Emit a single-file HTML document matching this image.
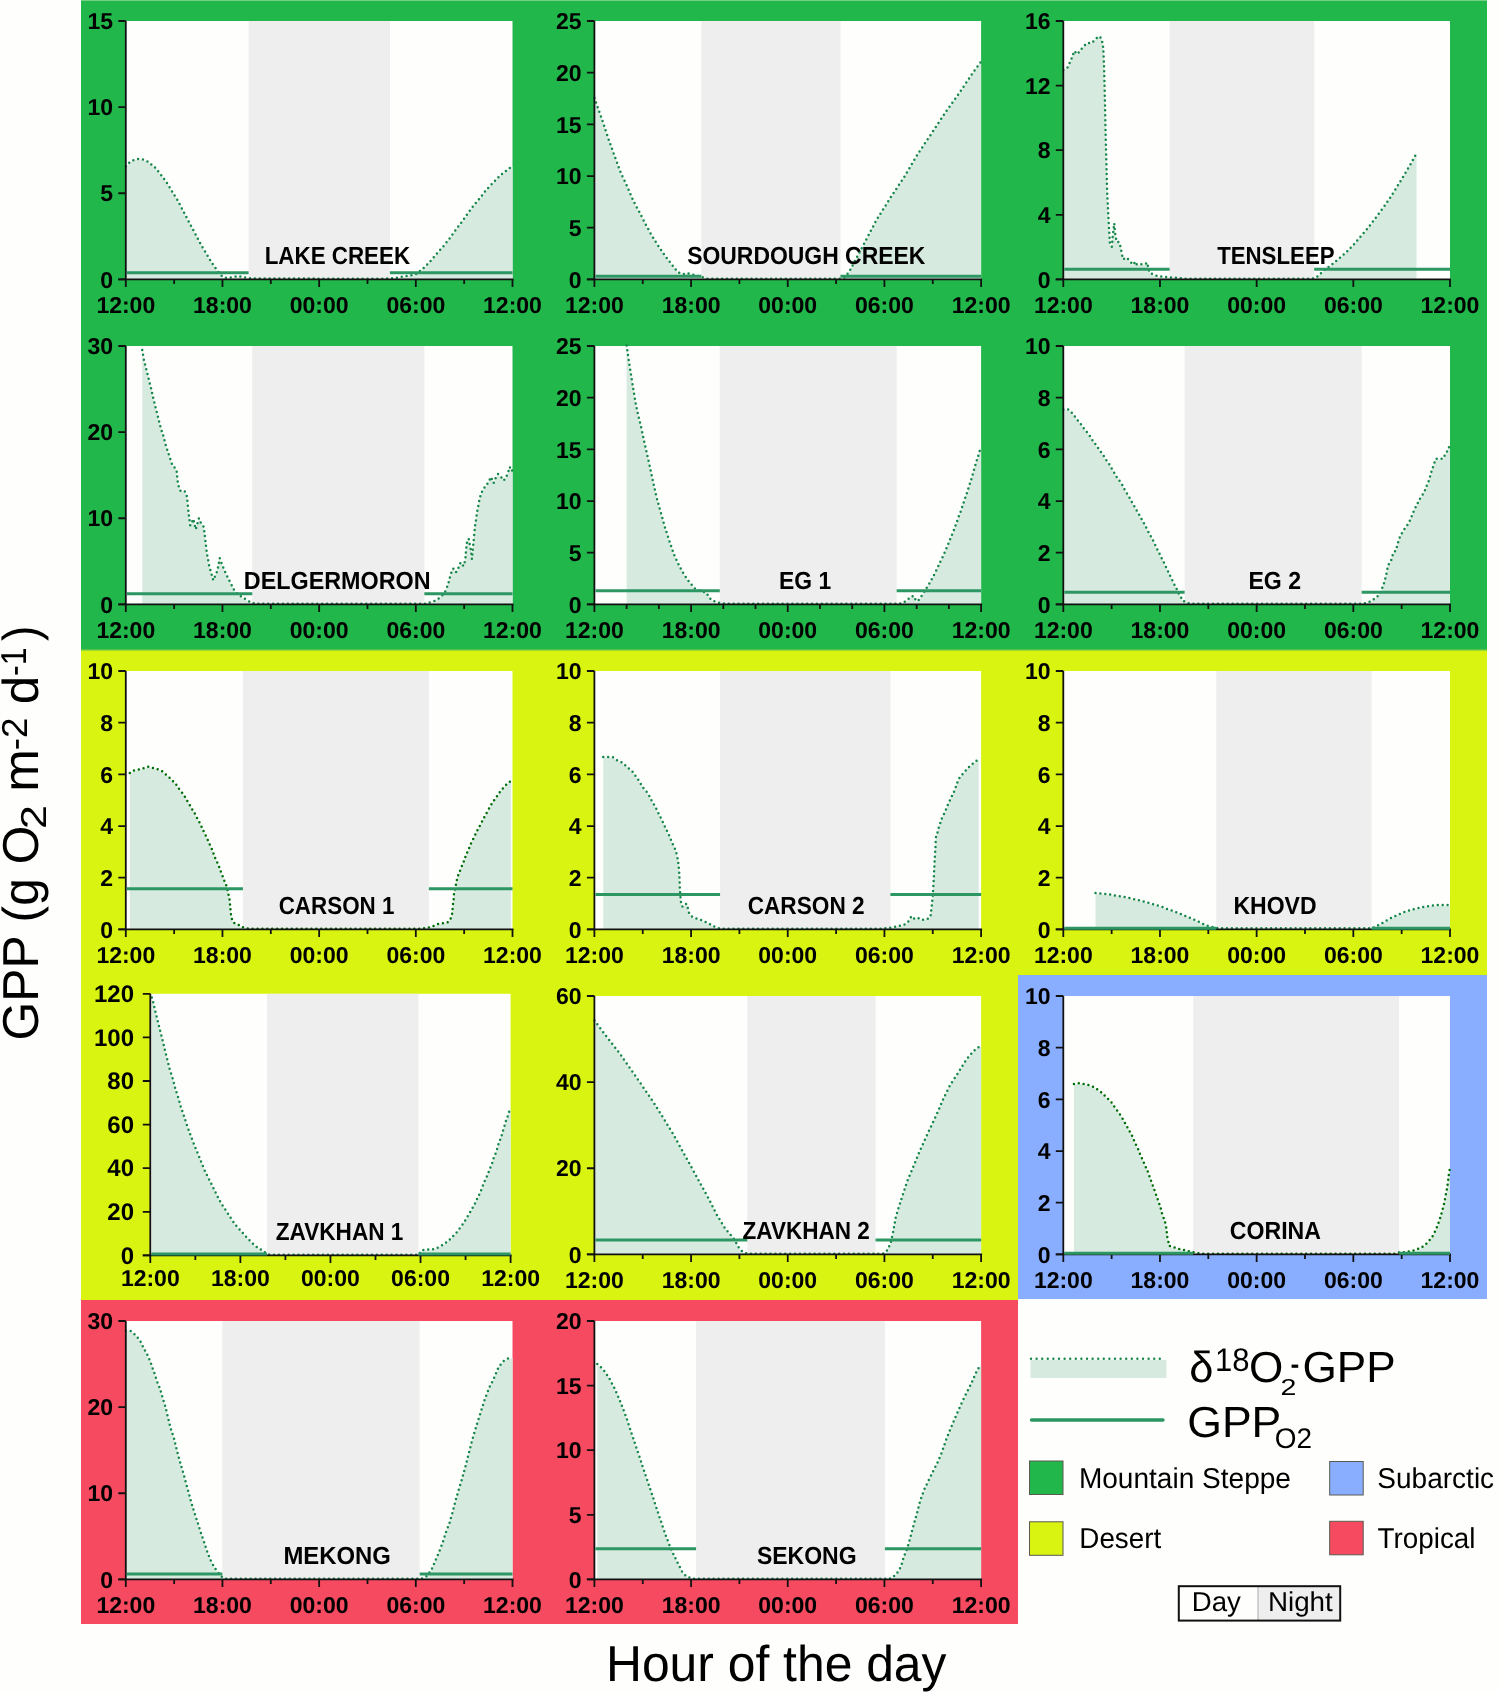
<!DOCTYPE html>
<html><head><meta charset="utf-8"><style>
html,body{margin:0;padding:0;background:#fefefd;}
body{width:1500px;height:1692px;overflow:hidden;}
svg{display:block;will-change:transform;}
text{font-family:"Liberation Sans", sans-serif;text-rendering:geometricPrecision;}
.t{font-size:23px;font-weight:bold;fill:#000;}
.n{font-size:24.8px;font-weight:bold;fill:#000;}
.lg{font-size:27px;fill:#000;}
</style></head><body>
<svg width="1500" height="1692" viewBox="0 0 1500 1692">
<rect x="0" y="0" width="1500" height="1692" fill="#fefefd"/>
<rect x="81" y="0" width="1406" height="650" fill="#21b74a"/><rect x="81" y="0" width="1406" height="1" fill="#74d083"/><rect x="81" y="650" width="1406" height="325" fill="#d9f411"/><rect x="81" y="649" width="1406" height="1.5" fill="#56c24c"/><rect x="81" y="975" width="937" height="325" fill="#d9f411"/><rect x="1018" y="975" width="469" height="324" fill="#8aaeff"/><rect x="81" y="1300" width="937" height="324" fill="#f54a60"/><rect x="125.8" y="21" width="386.7" height="258.4" fill="#fefefd"/>
<rect x="248.58" y="21" width="141.31" height="258.4" fill="#eeeeef"/>
<polygon fill="#d7eae0" points="125.8,279.4 125.8,166.91 129.34,163.29 133.53,160.71 138.21,159.5 143.36,160.19 148.04,162.26 155.45,168.46 161.57,176.21 167.69,184.65 172.69,193.09 178,201.54 182.52,210.32 187.19,219.28 191.86,228.06 196.53,236.85 201.21,245.81 206.36,254.25 211.52,263.03 217.16,270.96 220.38,275.27 223.6,278.02 228.92,278.54 238.43,276.64 246.64,278.54 252.44,279.06 384.89,279.4 396.17,278.37 405.67,276.82 415.66,275.09 423.08,269.06 430,262.17 436.93,254.08 443.86,246.32 449.98,238.57 455.62,230.65 461.75,222.55 467.38,214.63 473.51,206.36 479.95,198.61 486.08,190.68 493,183.45 500.25,176.04 508.15,169.84 512.5,166.57 512.5,279.4"/>
<path d="M125.8,166.31 L129.34,162.69 L133.53,160.11 L138.21,158.9 L143.36,159.59 L148.04,161.66 L155.45,167.86 L161.57,175.61 L167.69,184.05 L172.69,192.49 L178,200.94 L182.52,209.72 L187.19,218.68 L191.86,227.46 L196.53,236.25 L201.21,245.21 L206.36,253.65 L211.52,262.43 L217.16,270.36 L220.38,274.67 L223.6,277.42 L228.92,277.94 L238.43,276.04 L246.64,277.94 L252.44,278.46 L384.89,278.8 L396.17,277.77 L405.67,276.22 L415.66,274.49 L423.08,268.46 L430,261.57 L436.93,253.48 L443.86,245.72 L449.98,237.97 L455.62,230.05 L461.75,221.95 L467.38,214.03 L473.51,205.76 L479.95,198.01 L486.08,190.08 L493,182.85 L500.25,175.44 L508.15,169.24 L512.5,165.97" stroke="#178749" stroke-width="2.5" fill="none" stroke-dasharray="0 4.9" stroke-linecap="round" stroke-linejoin="round"/>
<path d="M125.8,21V279.4M118.3,279.4H513.5" stroke="#111" stroke-width="1.8" fill="none"/>
<text x="113" y="287.6" text-anchor="end" class="t">0</text>
<text x="113" y="201.47" text-anchor="end" class="t">5</text>
<text x="113" y="115.33" text-anchor="end" class="t">10</text>
<text x="113" y="29.2" text-anchor="end" class="t">15</text>
<path d="M118.3,279.4H125.8M118.3,193.27H125.8M118.3,107.13H125.8M118.3,21H125.8M125.8,279.4V286.9M222.47,279.4V286.9M319.15,279.4V286.9M415.82,279.4V286.9M512.5,279.4V286.9M174.14,279.4V283.9M270.81,279.4V283.9M367.49,279.4V283.9M464.16,279.4V283.9" stroke="#111" stroke-width="1.8" fill="none"/>
<path d="M126.8,272.85H248.58M389.88,272.85H512.5" stroke="#2c9763" stroke-width="3" fill="none"/>
<text x="125.8" y="312.7" text-anchor="middle" class="t">12:00</text>
<text x="222.47" y="312.7" text-anchor="middle" class="t">18:00</text>
<text x="319.15" y="312.7" text-anchor="middle" class="t">00:00</text>
<text x="415.82" y="312.7" text-anchor="middle" class="t">06:00</text>
<text x="512.5" y="312.7" text-anchor="middle" class="t">12:00</text>
<text x="264.70" y="263.70" class="n" textLength="145.40" lengthAdjust="spacingAndGlyphs">LAKE CREEK</text><rect x="594.4" y="21" width="386.7" height="258.4" fill="#fefefd"/>
<rect x="701.39" y="21" width="139.05" height="258.4" fill="#eeeeef"/>
<polygon fill="#d7eae0" points="594.4,279.4 594.4,98.52 602.46,121.26 608.58,139.86 614.7,156.92 620.99,173.97 627.11,186.69 633.39,201.67 639.51,212.84 645.8,225.24 651.92,236.4 658.21,246.32 664.49,255.63 670.61,263.69 678.02,272.99 683.02,274.75 687.05,273.61 694.14,275.47 700.74,277.33 707.19,279.4 840.92,279.4 844.95,277.85 849.3,272.16 862.51,247.26 876.37,220.79 890.23,198.68 904.08,177.8 917.94,154.33 931.8,133.66 945.65,112.58 959.67,93.04 973.53,72.27 981.1,62.34 981.1,279.4"/>
<path d="M594.4,97.92 L602.46,120.66 L608.58,139.26 L614.7,156.32 L620.99,173.37 L627.11,186.09 L633.39,201.07 L639.51,212.24 L645.8,224.64 L651.92,235.8 L658.21,245.72 L664.49,255.03 L670.61,263.09 L678.02,272.39 L683.02,274.15 L687.05,273.01 L694.14,274.87 L700.74,276.73 L707.19,278.8 L840.92,278.8 L844.95,277.25 L849.3,271.56 L862.51,246.66 L876.37,220.19 L890.23,198.08 L904.08,177.2 L917.94,153.73 L931.8,133.06 L945.65,111.98 L959.67,92.44 L973.53,71.67 L981.1,61.74" stroke="#178749" stroke-width="2.5" fill="none" stroke-dasharray="0 4.9" stroke-linecap="round" stroke-linejoin="round"/>
<path d="M594.4,21V279.4M586.9,279.4H982.1" stroke="#111" stroke-width="1.8" fill="none"/>
<text x="581.6" y="287.6" text-anchor="end" class="t">0</text>
<text x="581.6" y="235.92" text-anchor="end" class="t">5</text>
<text x="581.6" y="184.24" text-anchor="end" class="t">10</text>
<text x="581.6" y="132.56" text-anchor="end" class="t">15</text>
<text x="581.6" y="80.88" text-anchor="end" class="t">20</text>
<text x="581.6" y="29.2" text-anchor="end" class="t">25</text>
<path d="M586.9,279.4H594.4M586.9,227.72H594.4M586.9,176.04H594.4M586.9,124.36H594.4M586.9,72.68H594.4M586.9,21H594.4M594.4,279.4V286.9M691.07,279.4V286.9M787.75,279.4V286.9M884.42,279.4V286.9M981.1,279.4V286.9M642.74,279.4V283.9M739.41,279.4V283.9M836.09,279.4V283.9M932.76,279.4V283.9" stroke="#111" stroke-width="1.8" fill="none"/>
<path d="M595.4,276.3H701.39M840.44,276.3H981.1" stroke="#2c9763" stroke-width="3" fill="none"/>
<text x="594.4" y="312.7" text-anchor="middle" class="t">12:00</text>
<text x="691.07" y="312.7" text-anchor="middle" class="t">18:00</text>
<text x="787.75" y="312.7" text-anchor="middle" class="t">00:00</text>
<text x="884.42" y="312.7" text-anchor="middle" class="t">06:00</text>
<text x="981.1" y="312.7" text-anchor="middle" class="t">12:00</text>
<text x="687.14" y="263.70" class="n" textLength="238.27" lengthAdjust="spacingAndGlyphs">SOURDOUGH CREEK</text><rect x="1063.3" y="21" width="386.7" height="258.4" fill="#fefefd"/>
<rect x="1169.64" y="21" width="144.53" height="258.4" fill="#eeeeef"/>
<polygon fill="#d7eae0" points="1063.3,279.4 1063.3,70.26 1067.17,68.8 1071.2,60.24 1074.26,51.52 1077.32,54.75 1083.6,46.84 1087.63,43.45 1091.5,43.77 1098.59,36.83 1101.65,39.09 1103.26,48.45 1104.06,67.19 1104.87,98.52 1105.51,129.85 1106.32,161.18 1107.13,192.51 1108.74,223.84 1110.03,245.65 1111.8,247.26 1112.6,237.89 1114.22,223.84 1115.02,233.21 1116.63,242.58 1118.89,242.58 1120.5,247.26 1122.92,259.86 1126.78,258.24 1133.07,265.35 1135.48,262.12 1136.93,265.35 1145.47,264.54 1147.09,262.93 1149.5,273.1 1154.17,275.52 1158.85,276.98 1168.35,277.78 1177.7,278.59 1185.75,279.4 1311.43,279.4 1316.27,278.11 1319.65,275.04 1323.52,271.16 1331.41,265.51 1339.15,259.05 1346.56,252.59 1353.49,245.32 1359.93,237.89 1366.38,230.47 1372.5,222.71 1378.62,214.48 1384.74,206.24 1390.38,198 1395.54,189.77 1400.86,181.05 1406.01,172.49 1411.17,163.77 1415.84,155.04 1416.49,154.08 1416.49,279.4"/>
<path d="M1063.3,69.66 L1067.17,68.2 L1071.2,59.64 L1074.26,50.92 L1077.32,54.15 L1083.6,46.24 L1087.63,42.85 L1091.5,43.17 L1098.59,36.23 L1101.65,38.49 L1103.26,47.85 L1104.06,66.59 L1104.87,97.92 L1105.51,129.25 L1106.32,160.58 L1107.13,191.91 L1108.74,223.24 L1110.03,245.05 L1111.8,246.66 L1112.6,237.29 L1114.22,223.24 L1115.02,232.61 L1116.63,241.98 L1118.89,241.98 L1120.5,246.66 L1122.92,259.26 L1126.78,257.64 L1133.07,264.75 L1135.48,261.52 L1136.93,264.75 L1145.47,263.94 L1147.09,262.33 L1149.5,272.5 L1154.17,274.92 L1158.85,276.38 L1168.35,277.18 L1177.7,277.99 L1185.75,278.8 L1311.43,278.8 L1316.27,277.51 L1319.65,274.44 L1323.52,270.56 L1331.41,264.91 L1339.15,258.45 L1346.56,251.99 L1353.49,244.72 L1359.93,237.29 L1366.38,229.87 L1372.5,222.11 L1378.62,213.88 L1384.74,205.64 L1390.38,197.4 L1395.54,189.17 L1400.86,180.45 L1406.01,171.89 L1411.17,163.17 L1415.84,154.44 L1416.49,153.48" stroke="#178749" stroke-width="2.5" fill="none" stroke-dasharray="0 4.9" stroke-linecap="round" stroke-linejoin="round"/>
<path d="M1063.3,21V279.4M1055.8,279.4H1451" stroke="#111" stroke-width="1.8" fill="none"/>
<text x="1050.5" y="287.6" text-anchor="end" class="t">0</text>
<text x="1050.5" y="223" text-anchor="end" class="t">4</text>
<text x="1050.5" y="158.4" text-anchor="end" class="t">8</text>
<text x="1050.5" y="93.8" text-anchor="end" class="t">12</text>
<text x="1050.5" y="29.2" text-anchor="end" class="t">16</text>
<path d="M1055.8,279.4H1063.3M1055.8,214.8H1063.3M1055.8,150.2H1063.3M1055.8,85.6H1063.3M1055.8,21H1063.3M1063.3,279.4V286.9M1159.97,279.4V286.9M1256.65,279.4V286.9M1353.32,279.4V286.9M1450,279.4V286.9" stroke="#111" stroke-width="1.8" fill="none"/>
<path d="M1064.3,269.23H1169.64M1314.17,269.23H1450" stroke="#2c9763" stroke-width="3" fill="none"/>
<text x="1063.3" y="312.7" text-anchor="middle" class="t">12:00</text>
<text x="1159.97" y="312.7" text-anchor="middle" class="t">18:00</text>
<text x="1256.65" y="312.7" text-anchor="middle" class="t">00:00</text>
<text x="1353.32" y="312.7" text-anchor="middle" class="t">06:00</text>
<text x="1450" y="312.7" text-anchor="middle" class="t">12:00</text>
<text x="1217.15" y="263.70" class="n" textLength="117.41" lengthAdjust="spacingAndGlyphs">TENSLEEP</text><rect x="125.8" y="346" width="386.7" height="258.4" fill="#fefefd"/>
<rect x="252.28" y="346" width="172.08" height="258.4" fill="#eeeeef"/>
<polygon fill="#d7eae0" points="142.23,604.4 142.23,350.57 143.85,360.13 146.26,369.69 148.68,379.25 151.1,388.89 153.35,399.14 155.77,408.79 158.19,418.35 160.6,427.91 163.66,437.47 166.08,447.03 169.3,456.6 172.53,466.24 176.55,470.12 177.36,478.9 178.17,485.28 180.58,491.65 184.61,491.65 187.03,497.25 187.83,506.04 188.64,513.96 190.25,526.02 193.31,519.56 195.73,529.98 198.95,518.78 200.56,522.75 203.78,527.57 205.4,541.01 206.85,553.84 209.26,566.59 213.29,580.89 217.32,571.41 219.74,558.66 221.99,565.04 226.02,574.6 230.85,584.07 234.88,592.08 241.97,597.68 250.03,602.51 254.7,604.4 425.49,604.4 429.52,603.11 434.19,601.73 438.38,599.32 442.25,596.05 445.15,592.26 446.92,588.03 448.53,583.3 449.82,578.13 451.27,573.31 453.21,569.09 455.95,572.96 458.36,568.65 460.62,562.97 463.52,566.76 464.48,563.4 465.45,558.75 465.77,554.01 466.26,548.84 466.74,543.68 468.67,539.37 469.64,544.54 470.61,549.27 471.41,554.44 471.9,559.61 472.38,554.01 472.86,549.27 473.35,544.11 473.83,539.37 474.31,534.12 474.8,528.95 475.28,524.3 476.25,519.56 476.73,514.39 477.7,509.57 478.66,504.4 479.47,499.66 480.92,495.01 482.85,490.27 485.75,486.48 488.49,482.69 490.91,477.53 493.65,483.73 495.58,478.9 498,474.68 500.74,477.01 503.64,481.32 506.06,477.96 507.99,473.31 509.76,467.62 511.21,471.84 512.5,470.89 512.5,604.4"/>
<path d="M142.23,349.97 L143.85,359.53 L146.26,369.09 L148.68,378.65 L151.1,388.29 L153.35,398.54 L155.77,408.19 L158.19,417.75 L160.6,427.31 L163.66,436.87 L166.08,446.43 L169.3,456 L172.53,465.64 L176.55,469.52 L177.36,478.3 L178.17,484.68 L180.58,491.05 L184.61,491.05 L187.03,496.65 L187.83,505.44 L188.64,513.36 L190.25,525.42 L193.31,518.96 L195.73,529.38 L198.95,518.18 L200.56,522.15 L203.78,526.97 L205.4,540.41 L206.85,553.24 L209.26,565.99 L213.29,580.29 L217.32,570.81 L219.74,558.06 L221.99,564.44 L226.02,574 L230.85,583.47 L234.88,591.48 L241.97,597.08 L250.03,601.91 L254.7,603.8 L425.49,603.8 L429.52,602.51 L434.19,601.13 L438.38,598.72 L442.25,595.45 L445.15,591.66 L446.92,587.43 L448.53,582.7 L449.82,577.53 L451.27,572.71 L453.21,568.49 L455.95,572.36 L458.36,568.05 L460.62,562.37 L463.52,566.16 L464.48,562.8 L465.45,558.15 L465.77,553.41 L466.26,548.24 L466.74,543.08 L468.67,538.77 L469.64,543.94 L470.61,548.67 L471.41,553.84 L471.9,559.01 L472.38,553.41 L472.86,548.67 L473.35,543.51 L473.83,538.77 L474.31,533.52 L474.8,528.35 L475.28,523.7 L476.25,518.96 L476.73,513.79 L477.7,508.97 L478.66,503.8 L479.47,499.06 L480.92,494.41 L482.85,489.67 L485.75,485.88 L488.49,482.09 L490.91,476.93 L493.65,483.13 L495.58,478.3 L498,474.08 L500.74,476.41 L503.64,480.72 L506.06,477.36 L507.99,472.71 L509.76,467.02 L511.21,471.24 L512.5,470.29" stroke="#178749" stroke-width="2.5" fill="none" stroke-dasharray="0 4.9" stroke-linecap="round" stroke-linejoin="round"/>
<path d="M125.8,346V604.4M118.3,604.4H513.5" stroke="#111" stroke-width="1.8" fill="none"/>
<text x="113" y="612.6" text-anchor="end" class="t">0</text>
<text x="113" y="526.47" text-anchor="end" class="t">10</text>
<text x="113" y="440.33" text-anchor="end" class="t">20</text>
<text x="113" y="354.2" text-anchor="end" class="t">30</text>
<path d="M118.3,604.4H125.8M118.3,518.27H125.8M118.3,432.13H125.8M118.3,346H125.8M125.8,604.4V611.9M222.47,604.4V611.9M319.15,604.4V611.9M415.82,604.4V611.9M512.5,604.4V611.9M174.14,604.4V608.9M270.81,604.4V608.9M367.49,604.4V608.9M464.16,604.4V608.9" stroke="#111" stroke-width="1.8" fill="none"/>
<path d="M126.8,593.72H252.28M424.36,593.72H512.5" stroke="#2c9763" stroke-width="3" fill="none"/>
<text x="125.8" y="637.7" text-anchor="middle" class="t">12:00</text>
<text x="222.47" y="637.7" text-anchor="middle" class="t">18:00</text>
<text x="319.15" y="637.7" text-anchor="middle" class="t">00:00</text>
<text x="415.82" y="637.7" text-anchor="middle" class="t">06:00</text>
<text x="512.5" y="637.7" text-anchor="middle" class="t">12:00</text>
<text x="243.84" y="588.70" class="n" textLength="186.73" lengthAdjust="spacingAndGlyphs">DELGERMORON</text><rect x="594.4" y="346" width="386.7" height="258.4" fill="#fefefd"/>
<rect x="719.76" y="346" width="176.92" height="258.4" fill="#eeeeef"/>
<polygon fill="#d7eae0" points="626.62,604.4 626.62,346 628.72,360.88 631.14,375.97 633.55,391.17 635.97,405.54 638.39,416.7 640.8,426.31 643.87,440.68 647.09,454.94 650.31,469.31 653.37,483.78 656.59,498.04 660.62,512.41 664.65,526.88 669.48,541.97 674.16,555.51 678.99,565.95 683.82,574.74 689.3,582.69 694.94,589 701.23,592.2 706.06,593.03 710.89,600.16 715.73,602.64 722.17,603.88 726.52,604.4 898.93,604.4 903.12,603.37 907.3,600.68 910.85,597.16 914.23,596.75 915.84,601.4 918.1,601.3 921.16,597.16 923.9,593.03 926.64,588.38 929.22,584.24 931.63,580.01 933.89,575.67 936.15,571.12 938.4,566.47 940.34,562.23 942.59,557.58 944.69,553.03 946.62,548.38 948.55,543.83 950.33,539.18 952.26,534.63 954.19,529.98 955.8,525.33 957.58,520.47 959.19,515.72 961.12,511.17 962.57,506.1 964.18,501.56 965.79,496.7 967.4,492.05 968.85,487.29 970.47,482.44 971.92,477.68 973.37,472.82 974.65,468.07 976.11,463.21 977.56,458.46 979.01,453.8 980.46,448.74 981.1,447.29 981.1,604.4"/>
<path d="M626.62,345.4 L628.72,360.28 L631.14,375.37 L633.55,390.57 L635.97,404.94 L638.39,416.1 L640.8,425.71 L643.87,440.08 L647.09,454.34 L650.31,468.71 L653.37,483.18 L656.59,497.44 L660.62,511.81 L664.65,526.28 L669.48,541.37 L674.16,554.91 L678.99,565.35 L683.82,574.14 L689.3,582.09 L694.94,588.4 L701.23,591.6 L706.06,592.43 L710.89,599.56 L715.73,602.04 L722.17,603.28 L726.52,603.8 L898.93,603.8 L903.12,602.77 L907.3,600.08 L910.85,596.56 L914.23,596.15 L915.84,600.8 L918.1,600.7 L921.16,596.56 L923.9,592.43 L926.64,587.78 L929.22,583.64 L931.63,579.41 L933.89,575.07 L936.15,570.52 L938.4,565.87 L940.34,561.63 L942.59,556.98 L944.69,552.43 L946.62,547.78 L948.55,543.23 L950.33,538.58 L952.26,534.03 L954.19,529.38 L955.8,524.73 L957.58,519.87 L959.19,515.12 L961.12,510.57 L962.57,505.5 L964.18,500.96 L965.79,496.1 L967.4,491.45 L968.85,486.69 L970.47,481.84 L971.92,477.08 L973.37,472.22 L974.65,467.47 L976.11,462.61 L977.56,457.86 L979.01,453.2 L980.46,448.14 L981.1,446.69" stroke="#178749" stroke-width="2.5" fill="none" stroke-dasharray="0 4.9" stroke-linecap="round" stroke-linejoin="round"/>
<path d="M594.4,346V604.4M586.9,604.4H982.1" stroke="#111" stroke-width="1.8" fill="none"/>
<text x="581.6" y="612.6" text-anchor="end" class="t">0</text>
<text x="581.6" y="560.92" text-anchor="end" class="t">5</text>
<text x="581.6" y="509.24" text-anchor="end" class="t">10</text>
<text x="581.6" y="457.56" text-anchor="end" class="t">15</text>
<text x="581.6" y="405.88" text-anchor="end" class="t">20</text>
<text x="581.6" y="354.2" text-anchor="end" class="t">25</text>
<path d="M586.9,604.4H594.4M586.9,552.72H594.4M586.9,501.04H594.4M586.9,449.36H594.4M586.9,397.68H594.4M586.9,346H594.4M594.4,604.4V611.9M691.07,604.4V611.9M787.75,604.4V611.9M884.42,604.4V611.9M981.1,604.4V611.9M626.62,604.4V608.9M658.85,604.4V608.9M723.3,604.4V608.9M755.52,604.4V608.9M819.98,604.4V608.9M852.2,604.4V608.9M916.65,604.4V608.9M948.88,604.4V608.9" stroke="#111" stroke-width="1.8" fill="none"/>
<path d="M595.4,590.65H719.76M896.67,590.65H981.1" stroke="#2c9763" stroke-width="3" fill="none"/>
<text x="594.4" y="637.7" text-anchor="middle" class="t">12:00</text>
<text x="691.07" y="637.7" text-anchor="middle" class="t">18:00</text>
<text x="787.75" y="637.7" text-anchor="middle" class="t">00:00</text>
<text x="884.42" y="637.7" text-anchor="middle" class="t">06:00</text>
<text x="981.1" y="637.7" text-anchor="middle" class="t">12:00</text>
<text x="779.07" y="588.70" class="n" textLength="52.17" lengthAdjust="spacingAndGlyphs">EG 1</text><rect x="1063.3" y="346" width="386.7" height="258.4" fill="#fefefd"/>
<rect x="1184.63" y="346" width="177.08" height="258.4" fill="#eeeeef"/>
<polygon fill="#d7eae0" points="1063.3,604.4 1063.3,410.08 1068.29,410.08 1071.2,412.67 1074.26,416.28 1077.48,420.68 1080.54,424.3 1083.6,428.69 1086.66,432.56 1089.89,436.7 1092.3,440.57 1095.52,444.97 1098.59,449.36 1101.16,452.98 1104.23,457.37 1106.64,461.25 1109.87,465.64 1112.28,470.03 1114.7,474.17 1117.28,478.56 1120.34,482.44 1122.92,486.57 1125.33,491.74 1127.91,495.36 1130.33,499.75 1132.74,504.14 1135.32,508.53 1137.74,512.93 1140.32,517.32 1142.73,521.71 1145.15,525.85 1147.09,530.24 1149.5,534.63 1152.08,539.02 1154.5,543.93 1156.43,548.33 1158.85,552.72 1160.78,557.11 1163.2,561.51 1165.13,565.9 1167.55,570.81 1169.48,575.2 1171.74,579.59 1173.67,583.99 1176.09,588.12 1178.02,592.77 1180.44,596.91 1182.85,601.3 1187.85,603.88 1192.2,604.4 1361.38,604.4 1365.73,603.62 1370.4,602.07 1374.75,599.23 1378.46,596.13 1382.65,587.6 1384.26,582.95 1385.55,578.04 1386.68,573.13 1387.64,567.97 1389.26,563.57 1391.99,559.44 1392.96,554.01 1396.18,550.65 1397.15,546 1398.76,540.58 1400.37,536.44 1403.11,531.53 1405.69,527.91 1408.91,523.52 1411.01,518.61 1412.62,514.48 1414.71,509.57 1416.97,505.43 1419.06,500.52 1421.64,496.91 1424.38,492.51 1425.99,487.86 1428.09,483.47 1429.7,478.56 1430.83,473.91 1432.44,469.26 1434.05,464.35 1435.66,459.44 1439.53,459.44 1443.23,459.44 1445.33,454.79 1448.07,450.39 1449.68,445.74 1450,445.23 1450,604.4"/>
<path d="M1063.3,409.48 L1068.29,409.48 L1071.2,412.07 L1074.26,415.68 L1077.48,420.08 L1080.54,423.7 L1083.6,428.09 L1086.66,431.96 L1089.89,436.1 L1092.3,439.97 L1095.52,444.37 L1098.59,448.76 L1101.16,452.38 L1104.23,456.77 L1106.64,460.65 L1109.87,465.04 L1112.28,469.43 L1114.7,473.57 L1117.28,477.96 L1120.34,481.84 L1122.92,485.97 L1125.33,491.14 L1127.91,494.76 L1130.33,499.15 L1132.74,503.54 L1135.32,507.93 L1137.74,512.33 L1140.32,516.72 L1142.73,521.11 L1145.15,525.25 L1147.09,529.64 L1149.5,534.03 L1152.08,538.42 L1154.5,543.33 L1156.43,547.73 L1158.85,552.12 L1160.78,556.51 L1163.2,560.91 L1165.13,565.3 L1167.55,570.21 L1169.48,574.6 L1171.74,578.99 L1173.67,583.39 L1176.09,587.52 L1178.02,592.17 L1180.44,596.31 L1182.85,600.7 L1187.85,603.28 L1192.2,603.8 L1361.38,603.8 L1365.73,603.02 L1370.4,601.47 L1374.75,598.63 L1378.46,595.53 L1382.65,587 L1384.26,582.35 L1385.55,577.44 L1386.68,572.53 L1387.64,567.37 L1389.26,562.97 L1391.99,558.84 L1392.96,553.41 L1396.18,550.05 L1397.15,545.4 L1398.76,539.98 L1400.37,535.84 L1403.11,530.93 L1405.69,527.31 L1408.91,522.92 L1411.01,518.01 L1412.62,513.88 L1414.71,508.97 L1416.97,504.83 L1419.06,499.92 L1421.64,496.31 L1424.38,491.91 L1425.99,487.26 L1428.09,482.87 L1429.7,477.96 L1430.83,473.31 L1432.44,468.66 L1434.05,463.75 L1435.66,458.84 L1439.53,458.84 L1443.23,458.84 L1445.33,454.19 L1448.07,449.79 L1449.68,445.14 L1450,444.63" stroke="#178749" stroke-width="2.5" fill="none" stroke-dasharray="0 4.9" stroke-linecap="round" stroke-linejoin="round"/>
<path d="M1063.3,346V604.4M1055.8,604.4H1451" stroke="#111" stroke-width="1.8" fill="none"/>
<text x="1050.5" y="612.6" text-anchor="end" class="t">0</text>
<text x="1050.5" y="560.92" text-anchor="end" class="t">2</text>
<text x="1050.5" y="509.24" text-anchor="end" class="t">4</text>
<text x="1050.5" y="457.56" text-anchor="end" class="t">6</text>
<text x="1050.5" y="405.88" text-anchor="end" class="t">8</text>
<text x="1050.5" y="354.2" text-anchor="end" class="t">10</text>
<path d="M1055.8,604.4H1063.3M1055.8,552.72H1063.3M1055.8,501.04H1063.3M1055.8,449.36H1063.3M1055.8,397.68H1063.3M1055.8,346H1063.3M1063.3,604.4V611.9M1159.97,604.4V611.9M1256.65,604.4V611.9M1353.32,604.4V611.9M1450,604.4V611.9M1111.64,604.4V608.9M1208.31,604.4V608.9M1304.99,604.4V608.9M1401.66,604.4V608.9" stroke="#111" stroke-width="1.8" fill="none"/>
<path d="M1064.3,592.26H1184.63M1361.7,592.26H1450" stroke="#2c9763" stroke-width="3" fill="none"/>
<text x="1063.3" y="637.7" text-anchor="middle" class="t">12:00</text>
<text x="1159.97" y="637.7" text-anchor="middle" class="t">18:00</text>
<text x="1256.65" y="637.7" text-anchor="middle" class="t">00:00</text>
<text x="1353.32" y="637.7" text-anchor="middle" class="t">06:00</text>
<text x="1450" y="637.7" text-anchor="middle" class="t">12:00</text>
<text x="1248.45" y="588.70" class="n" textLength="52.67" lengthAdjust="spacingAndGlyphs">EG 2</text><rect x="125.8" y="671" width="386.7" height="258.4" fill="#fefefd"/>
<rect x="242.94" y="671" width="185.94" height="258.4" fill="#eeeeef"/>
<polygon fill="#d7eae0" points="129.83,929.4 129.83,773.58 133.86,771 138.53,770.23 143.68,768.93 148.36,767.38 153.03,768.68 157.7,769.97 162.38,772.03 165.92,775.14 170.11,778.75 173.17,781.85 176.39,785.47 179.45,790.12 182.52,793.74 185.26,797.87 187.83,802.53 190.41,806.66 192.99,811.31 195.57,815.45 197.66,819.84 200.24,824.23 202.33,829.14 204.43,833.53 206.52,837.67 208.62,842.58 210.71,846.97 212.81,851.88 214.26,856.53 216.35,861.18 218.61,865.83 220.06,870.48 222.15,875.14 223.6,879.79 225.7,884.44 227.31,889.09 228.28,894.26 229.4,898.91 229.89,903.56 230.37,908.73 230.85,913.9 231.5,918.55 233.43,923.2 237.62,924.75 241.33,927.33 246,928.88 251.48,929.4 420.66,929.4 424.36,928.88 429.2,928.11 433.55,926.56 438.38,924.49 443.38,923.72 448.21,922.68 450.63,919.32 452.08,914.41 452.56,909.5 453.04,904.59 453.69,899.68 454.01,894.26 454.98,889.35 456.11,884.44 457.07,879.53 458.36,875.14 460.46,870.23 462.39,865.32 464.32,860.92 465.77,856.27 467.71,851.88 469.64,847.49 471.57,842.58 473.99,838.18 475.92,833.79 478.34,828.88 480.92,824.49 482.85,820.36 485.27,815.96 487.69,811.57 490.1,807.18 492.68,802.78 495.58,798.91 498.48,794.52 501.38,790.64 504.77,786.76 508.15,783.4 510.89,781.6 510.89,929.4"/>
<path d="M129.83,772.98 L133.86,770.4 L138.53,769.63 L143.68,768.33 L148.36,766.78 L153.03,768.08 L157.7,769.37 L162.38,771.43 L165.92,774.54 L170.11,778.15 L173.17,781.25 L176.39,784.87 L179.45,789.52 L182.52,793.14 L185.26,797.27 L187.83,801.93 L190.41,806.06 L192.99,810.71 L195.57,814.85 L197.66,819.24 L200.24,823.63 L202.33,828.54 L204.43,832.93 L206.52,837.07 L208.62,841.98 L210.71,846.37 L212.81,851.28 L214.26,855.93 L216.35,860.58 L218.61,865.23 L220.06,869.88 L222.15,874.54 L223.6,879.19 L225.7,883.84 L227.31,888.49 L228.28,893.66 L229.4,898.31 L229.89,902.96 L230.37,908.13 L230.85,913.3 L231.5,917.95 L233.43,922.6 L237.62,924.15 L241.33,926.73 L246,928.28 L251.48,928.8 L420.66,928.8 L424.36,928.28 L429.2,927.51 L433.55,925.96 L438.38,923.89 L443.38,923.12 L448.21,922.08 L450.63,918.72 L452.08,913.81 L452.56,908.9 L453.04,903.99 L453.69,899.08 L454.01,893.66 L454.98,888.75 L456.11,883.84 L457.07,878.93 L458.36,874.54 L460.46,869.63 L462.39,864.72 L464.32,860.32 L465.77,855.67 L467.71,851.28 L469.64,846.89 L471.57,841.98 L473.99,837.58 L475.92,833.19 L478.34,828.28 L480.92,823.89 L482.85,819.76 L485.27,815.36 L487.69,810.97 L490.1,806.58 L492.68,802.18 L495.58,798.31 L498.48,793.92 L501.38,790.04 L504.77,786.16 L508.15,782.8 L510.89,781" stroke="#006e08" stroke-width="2.5" fill="none" stroke-dasharray="0 4.9" stroke-linecap="round" stroke-linejoin="round"/>
<path d="M125.8,671V929.4M118.3,929.4H513.5" stroke="#111" stroke-width="1.8" fill="none"/>
<text x="113" y="937.6" text-anchor="end" class="t">0</text>
<text x="113" y="885.92" text-anchor="end" class="t">2</text>
<text x="113" y="834.24" text-anchor="end" class="t">4</text>
<text x="113" y="782.56" text-anchor="end" class="t">6</text>
<text x="113" y="730.88" text-anchor="end" class="t">8</text>
<text x="113" y="679.2" text-anchor="end" class="t">10</text>
<path d="M118.3,929.4H125.8M118.3,877.72H125.8M118.3,826.04H125.8M118.3,774.36H125.8M118.3,722.68H125.8M118.3,671H125.8M125.8,929.4V936.9M222.47,929.4V936.9M319.15,929.4V936.9M415.82,929.4V936.9M512.5,929.4V936.9M174.14,929.4V933.9M270.81,929.4V933.9M367.49,929.4V933.9M464.16,929.4V933.9" stroke="#111" stroke-width="1.8" fill="none"/>
<path d="M126.8,888.83H242.94M428.88,888.83H512.5" stroke="#2c9763" stroke-width="3" fill="none"/>
<text x="125.8" y="962.7" text-anchor="middle" class="t">12:00</text>
<text x="222.47" y="962.7" text-anchor="middle" class="t">18:00</text>
<text x="319.15" y="962.7" text-anchor="middle" class="t">00:00</text>
<text x="415.82" y="962.7" text-anchor="middle" class="t">06:00</text>
<text x="512.5" y="962.7" text-anchor="middle" class="t">12:00</text>
<text x="278.68" y="913.70" class="n" textLength="115.74" lengthAdjust="spacingAndGlyphs">CARSON 1</text><rect x="594.4" y="671" width="386.7" height="258.4" fill="#fefefd"/>
<rect x="720.08" y="671" width="170.31" height="258.4" fill="#eeeeef"/>
<polygon fill="#d7eae0" points="603.26,929.4 603.26,757.56 608.1,757.56 612.93,757.82 616.8,760.66 621.15,762.47 625.01,765.57 628.88,769.19 632.75,772.55 635.49,776.43 638.23,780.3 640.8,784.44 643.54,788.83 646.93,792.71 649.67,797.1 651.76,801.49 654.5,805.88 656.76,810.28 658.85,814.67 661.11,819.06 663.2,823.46 665.46,828.37 667.55,832.76 669.81,837.41 671.42,841.8 673.67,846.71 675.77,851.1 676.9,856.01 678.02,860.92 678.51,866.09 679.15,871 679.31,875.91 679.64,880.82 679.64,885.73 679.96,890.64 680.28,895.55 680.76,900.46 681.25,905.89 682.86,907.44 686.24,904.34 687.85,908.73 688.98,913.38 691.07,916.74 696.07,919.06 700.42,920.36 705.25,922.42 709.6,924.49 713.95,927.07 718.95,928.88 723.3,929.4 882.81,929.4 886.36,928.62 891.84,928.11 896.67,927.07 901.5,926.04 906.02,924.49 909.24,921.13 911.49,916.74 914.72,919.58 917.94,918.55 921.81,920.61 926.8,919.84 930.51,917.51 930.99,912.35 931.63,907.44 932.12,902.53 932.76,897.62 933.25,887.8 933.57,882.89 933.89,877.46 934.05,872.55 934.37,867.64 934.53,862.73 934.86,857.82 935.18,852.91 935.5,847.23 935.66,842.58 935.98,837.67 937.6,832.76 938.72,828.37 940.34,823.46 941.95,818.55 944.2,814.15 946.3,809.24 948.07,804.85 950.16,800.46 952.42,795.55 954.51,791.16 956.29,786.25 957.74,781.85 959.99,777.46 963.38,773.84 966.6,770.23 969.82,766.61 973.69,763.51 977.56,760.41 978.68,759.63 978.68,929.4"/>
<path d="M603.26,756.96 L608.1,756.96 L612.93,757.22 L616.8,760.06 L621.15,761.87 L625.01,764.97 L628.88,768.59 L632.75,771.95 L635.49,775.83 L638.23,779.7 L640.8,783.84 L643.54,788.23 L646.93,792.11 L649.67,796.5 L651.76,800.89 L654.5,805.28 L656.76,809.68 L658.85,814.07 L661.11,818.46 L663.2,822.86 L665.46,827.77 L667.55,832.16 L669.81,836.81 L671.42,841.2 L673.67,846.11 L675.77,850.5 L676.9,855.41 L678.02,860.32 L678.51,865.49 L679.15,870.4 L679.31,875.31 L679.64,880.22 L679.64,885.13 L679.96,890.04 L680.28,894.95 L680.76,899.86 L681.25,905.29 L682.86,906.84 L686.24,903.74 L687.85,908.13 L688.98,912.78 L691.07,916.14 L696.07,918.46 L700.42,919.76 L705.25,921.82 L709.6,923.89 L713.95,926.47 L718.95,928.28 L723.3,928.8 L882.81,928.8 L886.36,928.02 L891.84,927.51 L896.67,926.47 L901.5,925.44 L906.02,923.89 L909.24,920.53 L911.49,916.14 L914.72,918.98 L917.94,917.95 L921.81,920.01 L926.8,919.24 L930.51,916.91 L930.99,911.75 L931.63,906.84 L932.12,901.93 L932.76,897.02 L933.25,887.2 L933.57,882.29 L933.89,876.86 L934.05,871.95 L934.37,867.04 L934.53,862.13 L934.86,857.22 L935.18,852.31 L935.5,846.63 L935.66,841.98 L935.98,837.07 L937.6,832.16 L938.72,827.77 L940.34,822.86 L941.95,817.95 L944.2,813.55 L946.3,808.64 L948.07,804.25 L950.16,799.86 L952.42,794.95 L954.51,790.56 L956.29,785.65 L957.74,781.25 L959.99,776.86 L963.38,773.24 L966.6,769.63 L969.82,766.01 L973.69,762.91 L977.56,759.81 L978.68,759.03" stroke="#178749" stroke-width="2.5" fill="none" stroke-dasharray="0 4.9" stroke-linecap="round" stroke-linejoin="round"/>
<path d="M594.4,671V929.4M586.9,929.4H982.1" stroke="#111" stroke-width="1.8" fill="none"/>
<text x="581.6" y="937.6" text-anchor="end" class="t">0</text>
<text x="581.6" y="885.92" text-anchor="end" class="t">2</text>
<text x="581.6" y="834.24" text-anchor="end" class="t">4</text>
<text x="581.6" y="782.56" text-anchor="end" class="t">6</text>
<text x="581.6" y="730.88" text-anchor="end" class="t">8</text>
<text x="581.6" y="679.2" text-anchor="end" class="t">10</text>
<path d="M586.9,929.4H594.4M586.9,877.72H594.4M586.9,826.04H594.4M586.9,774.36H594.4M586.9,722.68H594.4M586.9,671H594.4M594.4,929.4V936.9M691.07,929.4V936.9M787.75,929.4V936.9M884.42,929.4V936.9M981.1,929.4V936.9M642.74,929.4V933.9M739.41,929.4V933.9M836.09,929.4V933.9M932.76,929.4V933.9" stroke="#111" stroke-width="1.8" fill="none"/>
<path d="M595.4,894.52H720.08M890.39,894.52H981.1" stroke="#2c9763" stroke-width="3" fill="none"/>
<text x="594.4" y="962.7" text-anchor="middle" class="t">12:00</text>
<text x="691.07" y="962.7" text-anchor="middle" class="t">18:00</text>
<text x="787.75" y="962.7" text-anchor="middle" class="t">00:00</text>
<text x="884.42" y="962.7" text-anchor="middle" class="t">06:00</text>
<text x="981.1" y="962.7" text-anchor="middle" class="t">12:00</text>
<text x="747.67" y="913.70" class="n" textLength="117.04" lengthAdjust="spacingAndGlyphs">CARSON 2</text><rect x="1063.3" y="671" width="386.7" height="258.4" fill="#fefefd"/>
<rect x="1216.21" y="671" width="155.49" height="258.4" fill="#eeeeef"/>
<polygon fill="#d7eae0" points="1095.52,929.4 1095.52,893.48 1100.2,894 1105.35,894.52 1110.03,895.03 1115.02,896.07 1119.69,896.84 1124.85,897.62 1129.52,898.65 1134.68,899.94 1139.35,900.98 1144.02,902.27 1148.7,903.56 1153.69,905.11 1158.52,906.4 1163.2,907.95 1167.71,909.76 1172.38,911.31 1177.22,913.12 1181.73,914.93 1186.4,917 1190.59,918.81 1195.26,920.87 1199.93,922.94 1204.61,925.27 1208.8,926.82 1213.95,927.85 1217.98,928.88 1372.66,928.88 1376.69,926.56 1380.88,924.49 1385.07,921.91 1389.58,919.32 1393.77,917.26 1398.6,915.19 1403.11,913.12 1407.62,911.57 1412.46,910.02 1417.29,908.99 1421.96,907.69 1426.8,906.92 1431.95,906.14 1436.79,905.63 1441.78,905.63 1446.62,905.63 1450,905.89 1450,929.4"/>
<path d="M1095.52,892.88 L1100.2,893.4 L1105.35,893.92 L1110.03,894.43 L1115.02,895.47 L1119.69,896.24 L1124.85,897.02 L1129.52,898.05 L1134.68,899.34 L1139.35,900.38 L1144.02,901.67 L1148.7,902.96 L1153.69,904.51 L1158.52,905.8 L1163.2,907.35 L1167.71,909.16 L1172.38,910.71 L1177.22,912.52 L1181.73,914.33 L1186.4,916.4 L1190.59,918.21 L1195.26,920.27 L1199.93,922.34 L1204.61,924.67 L1208.8,926.22 L1213.95,927.25 L1217.98,928.28 L1372.66,928.28 L1376.69,925.96 L1380.88,923.89 L1385.07,921.31 L1389.58,918.72 L1393.77,916.66 L1398.6,914.59 L1403.11,912.52 L1407.62,910.97 L1412.46,909.42 L1417.29,908.39 L1421.96,907.09 L1426.8,906.32 L1431.95,905.54 L1436.79,905.03 L1441.78,905.03 L1446.62,905.03 L1450,905.29" stroke="#178749" stroke-width="2.5" fill="none" stroke-dasharray="0 4.9" stroke-linecap="round" stroke-linejoin="round"/>
<path d="M1063.3,671V929.4M1055.8,929.4H1451" stroke="#111" stroke-width="1.8" fill="none"/>
<text x="1050.5" y="937.6" text-anchor="end" class="t">0</text>
<text x="1050.5" y="885.92" text-anchor="end" class="t">2</text>
<text x="1050.5" y="834.24" text-anchor="end" class="t">4</text>
<text x="1050.5" y="782.56" text-anchor="end" class="t">6</text>
<text x="1050.5" y="730.88" text-anchor="end" class="t">8</text>
<text x="1050.5" y="679.2" text-anchor="end" class="t">10</text>
<path d="M1055.8,929.4H1063.3M1055.8,877.72H1063.3M1055.8,826.04H1063.3M1055.8,774.36H1063.3M1055.8,722.68H1063.3M1055.8,671H1063.3M1063.3,929.4V936.9M1159.97,929.4V936.9M1256.65,929.4V936.9M1353.32,929.4V936.9M1450,929.4V936.9M1111.64,929.4V933.9M1208.31,929.4V933.9M1304.99,929.4V933.9M1401.66,929.4V933.9" stroke="#111" stroke-width="1.8" fill="none"/>
<path d="M1064.3,928.37H1216.21M1371.69,928.37H1450" stroke="#2c9763" stroke-width="3" fill="none"/>
<text x="1063.3" y="962.7" text-anchor="middle" class="t">12:00</text>
<text x="1159.97" y="962.7" text-anchor="middle" class="t">18:00</text>
<text x="1256.65" y="962.7" text-anchor="middle" class="t">00:00</text>
<text x="1353.32" y="962.7" text-anchor="middle" class="t">06:00</text>
<text x="1450" y="962.7" text-anchor="middle" class="t">12:00</text>
<text x="1233.46" y="913.70" class="n" textLength="83.11" lengthAdjust="spacingAndGlyphs">KHOVD</text><rect x="150.3" y="993.8" width="360.3" height="261.6" fill="#fefefd"/>
<rect x="266.95" y="993.8" width="151.48" height="261.6" fill="#eeeeef"/>
<polygon fill="#d7eae0" points="151.8,1255.4 151.8,998.16 153.15,1002.52 155.55,1012.98 157.96,1022.58 160.36,1032.17 162.76,1041.54 165.01,1051.13 167.41,1060.73 169.82,1070.32 172.97,1079.91 175.37,1089.5 178.52,1099.09 180.93,1107.81 184.23,1117.41 187.38,1127 190.53,1135.72 193.84,1144.44 197.74,1154.03 201.64,1163.62 204.95,1171.69 208.85,1179.54 212.9,1187.6 216.81,1195.67 220.86,1203.52 225.66,1210.71 230.32,1217.9 235.12,1225.1 240.83,1231.42 246.38,1237.74 251.93,1243.41 257.49,1248.21 263.19,1251.48 266.65,1254.31 270.4,1255.4 419.02,1255.4 420.53,1252.13 421.73,1251.04 425.93,1250.17 431.18,1250.17 435.99,1249.08 440.79,1246.68 444.55,1244.28 448.9,1241.01 452.2,1237.52 455.65,1234.25 458.96,1229.89 461.81,1226.19 464.66,1221.83 467.06,1217.9 469.92,1213.11 472.32,1208.97 474.72,1204.61 476.67,1200.25 479.07,1195.45 480.88,1191.31 482.83,1186.29 484.78,1181.5 486.73,1177.36 488.68,1172.56 490.48,1167.76 492.43,1162.97 493.79,1158.17 495.74,1153.81 497.24,1149.02 498.59,1144.22 500.54,1139.42 502.04,1134.85 503.39,1129.83 504.9,1125.25 506.25,1120.46 508.2,1115.66 509.55,1110.87 510.6,1109.34 510.6,1255.4"/>
<path d="M151.8,997.56 L153.15,1001.92 L155.55,1012.38 L157.96,1021.98 L160.36,1031.57 L162.76,1040.94 L165.01,1050.53 L167.41,1060.13 L169.82,1069.72 L172.97,1079.31 L175.37,1088.9 L178.52,1098.49 L180.93,1107.21 L184.23,1116.81 L187.38,1126.4 L190.53,1135.12 L193.84,1143.84 L197.74,1153.43 L201.64,1163.02 L204.95,1171.09 L208.85,1178.94 L212.9,1187 L216.81,1195.07 L220.86,1202.92 L225.66,1210.11 L230.32,1217.3 L235.12,1224.5 L240.83,1230.82 L246.38,1237.14 L251.93,1242.81 L257.49,1247.61 L263.19,1250.88 L266.65,1253.71 L270.4,1254.8 L419.02,1254.8 L420.53,1251.53 L421.73,1250.44 L425.93,1249.57 L431.18,1249.57 L435.99,1248.48 L440.79,1246.08 L444.55,1243.68 L448.9,1240.41 L452.2,1236.92 L455.65,1233.65 L458.96,1229.29 L461.81,1225.59 L464.66,1221.23 L467.06,1217.3 L469.92,1212.51 L472.32,1208.37 L474.72,1204.01 L476.67,1199.65 L479.07,1194.85 L480.88,1190.71 L482.83,1185.69 L484.78,1180.9 L486.73,1176.76 L488.68,1171.96 L490.48,1167.16 L492.43,1162.37 L493.79,1157.57 L495.74,1153.21 L497.24,1148.42 L498.59,1143.62 L500.54,1138.82 L502.04,1134.25 L503.39,1129.23 L504.9,1124.65 L506.25,1119.86 L508.2,1115.06 L509.55,1110.27 L510.6,1108.74" stroke="#178749" stroke-width="2.5" fill="none" stroke-dasharray="0 4.9" stroke-linecap="round" stroke-linejoin="round"/>
<path d="M150.3,993.8V1255.4M142.8,1255.4H511.6" stroke="#111" stroke-width="1.8" fill="none"/>
<text x="134" y="1263.6" text-anchor="end" class="t" style="font-size:24px">0</text>
<text x="134" y="1220" text-anchor="end" class="t" style="font-size:24px">20</text>
<text x="134" y="1176.4" text-anchor="end" class="t" style="font-size:24px">40</text>
<text x="134" y="1132.8" text-anchor="end" class="t" style="font-size:24px">60</text>
<text x="134" y="1089.2" text-anchor="end" class="t" style="font-size:24px">80</text>
<text x="134" y="1045.6" text-anchor="end" class="t" style="font-size:24px">100</text>
<text x="134" y="1002" text-anchor="end" class="t" style="font-size:24px">120</text>
<path d="M142.8,1255.4H150.3M142.8,1211.8H150.3M142.8,1168.2H150.3M142.8,1124.6H150.3M142.8,1081H150.3M142.8,1037.4H150.3M142.8,993.8H150.3M150.3,1255.4V1262.9M240.38,1255.4V1262.9M330.45,1255.4V1262.9M420.53,1255.4V1262.9M510.6,1255.4V1262.9M195.34,1255.4V1259.9M285.41,1255.4V1259.9M375.49,1255.4V1259.9M465.56,1255.4V1259.9" stroke="#111" stroke-width="1.8" fill="none"/>
<path d="M151.3,1254.09H266.95M418.42,1254.09H510.6" stroke="#2c9763" stroke-width="3" fill="none"/>
<text x="150.3" y="1285.9" text-anchor="middle" class="t">12:00</text>
<text x="240.38" y="1285.9" text-anchor="middle" class="t">18:00</text>
<text x="330.45" y="1285.9" text-anchor="middle" class="t">00:00</text>
<text x="420.53" y="1285.9" text-anchor="middle" class="t">06:00</text>
<text x="510.6" y="1285.9" text-anchor="middle" class="t">12:00</text>
<text x="275.74" y="1239.70" class="n" textLength="127.69" lengthAdjust="spacingAndGlyphs">ZAVKHAN 1</text><rect x="594.4" y="996" width="386.7" height="258.4" fill="#fefefd"/>
<rect x="747.31" y="996" width="128.26" height="258.4" fill="#eeeeef"/>
<polygon fill="#d7eae0" points="594.4,1254.4 594.4,1020.98 595.37,1022.27 606.97,1037.77 619.21,1053.28 631.46,1070.94 642.25,1086.44 653.69,1103.24 663.68,1119.17 673.67,1135.54 682.86,1152.33 691.24,1167.41 700.58,1184.63 708.96,1199.71 716.69,1215.21 725.07,1228.99 733.61,1239.03 739.73,1249.79 743.6,1252.81 747.47,1254.4 882.81,1254.4 886.52,1251.9 890.55,1244.11 893.13,1232.44 895.7,1218.14 898.28,1209.18 902.79,1195.4 907.47,1181.19 913.27,1167.41 919.07,1153.19 924.87,1140.27 931.47,1126.06 937.92,1112.28 943.72,1098.5 950.16,1085.58 958.06,1073.52 966.28,1060.17 973.37,1051.99 977.39,1048.54 981.1,1046.39 981.1,1254.4"/>
<path d="M594.4,1020.38 L595.37,1021.67 L606.97,1037.17 L619.21,1052.68 L631.46,1070.34 L642.25,1085.84 L653.69,1102.64 L663.68,1118.57 L673.67,1134.94 L682.86,1151.73 L691.24,1166.81 L700.58,1184.03 L708.96,1199.11 L716.69,1214.61 L725.07,1228.39 L733.61,1238.43 L739.73,1249.19 L743.6,1252.21 L747.47,1253.8 L882.81,1253.8 L886.52,1251.3 L890.55,1243.51 L893.13,1231.84 L895.7,1217.54 L898.28,1208.58 L902.79,1194.8 L907.47,1180.59 L913.27,1166.81 L919.07,1152.59 L924.87,1139.67 L931.47,1125.46 L937.92,1111.68 L943.72,1097.9 L950.16,1084.98 L958.06,1072.92 L966.28,1059.57 L973.37,1051.39 L977.39,1047.94 L981.1,1045.79" stroke="#178749" stroke-width="2.5" fill="none" stroke-dasharray="0 4.9" stroke-linecap="round" stroke-linejoin="round"/>
<path d="M594.4,996V1254.4M586.9,1254.4H982.1" stroke="#111" stroke-width="1.8" fill="none"/>
<text x="581.6" y="1262.6" text-anchor="end" class="t">0</text>
<text x="581.6" y="1176.47" text-anchor="end" class="t">20</text>
<text x="581.6" y="1090.33" text-anchor="end" class="t">40</text>
<text x="581.6" y="1004.2" text-anchor="end" class="t">60</text>
<path d="M586.9,1254.4H594.4M586.9,1168.27H594.4M586.9,1082.13H594.4M586.9,996H594.4M594.4,1254.4V1261.9M691.07,1254.4V1261.9M787.75,1254.4V1261.9M884.42,1254.4V1261.9M981.1,1254.4V1261.9M642.74,1254.4V1258.9M739.41,1254.4V1258.9M836.09,1254.4V1258.9M932.76,1254.4V1258.9" stroke="#111" stroke-width="1.8" fill="none"/>
<path d="M595.4,1240.06H747.31M875.56,1240.06H981.1" stroke="#2c9763" stroke-width="3" fill="none"/>
<text x="594.4" y="1287.7" text-anchor="middle" class="t">12:00</text>
<text x="691.07" y="1287.7" text-anchor="middle" class="t">18:00</text>
<text x="787.75" y="1287.7" text-anchor="middle" class="t">00:00</text>
<text x="884.42" y="1287.7" text-anchor="middle" class="t">06:00</text>
<text x="981.1" y="1287.7" text-anchor="middle" class="t">12:00</text>
<text x="742.54" y="1238.70" class="n" textLength="127.35" lengthAdjust="spacingAndGlyphs">ZAVKHAN 2</text><rect x="1063.3" y="996" width="386.7" height="258.4" fill="#fefefd"/>
<rect x="1193.17" y="996" width="205.92" height="258.4" fill="#eeeeef"/>
<polygon fill="#d7eae0" points="1073.93,1254.4 1073.93,1084.63 1078.93,1083.86 1083.92,1084.63 1088.44,1085.66 1092.95,1087.22 1097.46,1090.06 1101.33,1092.9 1104.71,1096.26 1108.74,1100.14 1112.12,1103.75 1114.86,1108.15 1117.76,1112.02 1120.5,1115.9 1123.4,1120.55 1125.66,1124.94 1128.39,1129.59 1130.65,1133.99 1132.91,1137.86 1134.52,1142.51 1136.77,1146.91 1139.03,1151.56 1140.64,1156.47 1143.06,1160.86 1144.67,1165.51 1146.92,1169.9 1148.7,1174.55 1150.31,1179.46 1152.08,1184.12 1153.69,1188.51 1155.46,1193.68 1157.07,1198.07 1158.85,1203.24 1160.46,1207.63 1161.59,1212.8 1163.2,1217.19 1164.97,1222.36 1166.1,1227.27 1166.74,1232.44 1167.23,1237.35 1168.35,1242 1169,1246.39 1173.51,1247.68 1178.02,1249.23 1182.53,1250.27 1187.04,1251.56 1192.04,1252.59 1198.97,1253.88 1205.09,1254.4 1395.22,1254.4 1399.57,1252.85 1404.72,1252.85 1409.24,1252.07 1414.23,1251.04 1419.06,1248.97 1423.25,1246.91 1427.12,1243.55 1430.34,1239.93 1433.24,1235.8 1435.5,1231.14 1437.43,1226.49 1439.04,1221.84 1440.65,1217.19 1441.94,1212.28 1443.23,1207.37 1444.52,1202.46 1445.33,1197.55 1446.29,1192.64 1447.26,1187.73 1447.91,1182.56 1448.55,1177.66 1449.03,1173 1450,1169.13 1450,1254.4"/>
<path d="M1073.93,1084.03 L1078.93,1083.26 L1083.92,1084.03 L1088.44,1085.06 L1092.95,1086.62 L1097.46,1089.46 L1101.33,1092.3 L1104.71,1095.66 L1108.74,1099.54 L1112.12,1103.15 L1114.86,1107.55 L1117.76,1111.42 L1120.5,1115.3 L1123.4,1119.95 L1125.66,1124.34 L1128.39,1128.99 L1130.65,1133.39 L1132.91,1137.26 L1134.52,1141.91 L1136.77,1146.31 L1139.03,1150.96 L1140.64,1155.87 L1143.06,1160.26 L1144.67,1164.91 L1146.92,1169.3 L1148.7,1173.95 L1150.31,1178.86 L1152.08,1183.52 L1153.69,1187.91 L1155.46,1193.08 L1157.07,1197.47 L1158.85,1202.64 L1160.46,1207.03 L1161.59,1212.2 L1163.2,1216.59 L1164.97,1221.76 L1166.1,1226.67 L1166.74,1231.84 L1167.23,1236.75 L1168.35,1241.4 L1169,1245.79 L1173.51,1247.08 L1178.02,1248.63 L1182.53,1249.67 L1187.04,1250.96 L1192.04,1251.99 L1198.97,1253.28 L1205.09,1253.8 L1395.22,1253.8 L1399.57,1252.25 L1404.72,1252.25 L1409.24,1251.47 L1414.23,1250.44 L1419.06,1248.37 L1423.25,1246.31 L1427.12,1242.95 L1430.34,1239.33 L1433.24,1235.2 L1435.5,1230.54 L1437.43,1225.89 L1439.04,1221.24 L1440.65,1216.59 L1441.94,1211.68 L1443.23,1206.77 L1444.52,1201.86 L1445.33,1196.95 L1446.29,1192.04 L1447.26,1187.13 L1447.91,1181.96 L1448.55,1177.06 L1449.03,1172.4 L1450,1168.53" stroke="#006e08" stroke-width="2.5" fill="none" stroke-dasharray="0 4.9" stroke-linecap="round" stroke-linejoin="round"/>
<path d="M1063.3,996V1254.4M1055.8,1254.4H1451" stroke="#111" stroke-width="1.8" fill="none"/>
<text x="1050.5" y="1262.6" text-anchor="end" class="t">0</text>
<text x="1050.5" y="1210.92" text-anchor="end" class="t">2</text>
<text x="1050.5" y="1159.24" text-anchor="end" class="t">4</text>
<text x="1050.5" y="1107.56" text-anchor="end" class="t">6</text>
<text x="1050.5" y="1055.88" text-anchor="end" class="t">8</text>
<text x="1050.5" y="1004.2" text-anchor="end" class="t">10</text>
<path d="M1055.8,1254.4H1063.3M1055.8,1202.72H1063.3M1055.8,1151.04H1063.3M1055.8,1099.36H1063.3M1055.8,1047.68H1063.3M1055.8,996H1063.3M1063.3,1254.4V1261.9M1159.97,1254.4V1261.9M1256.65,1254.4V1261.9M1353.32,1254.4V1261.9M1450,1254.4V1261.9M1111.64,1254.4V1258.9M1208.31,1254.4V1258.9M1304.99,1254.4V1258.9M1401.66,1254.4V1258.9" stroke="#111" stroke-width="1.8" fill="none"/>
<path d="M1064.3,1253.37H1193.17M1399.08,1253.37H1450" stroke="#2c9763" stroke-width="3" fill="none"/>
<text x="1063.3" y="1287.7" text-anchor="middle" class="t">12:00</text>
<text x="1159.97" y="1287.7" text-anchor="middle" class="t">18:00</text>
<text x="1256.65" y="1287.7" text-anchor="middle" class="t">00:00</text>
<text x="1353.32" y="1287.7" text-anchor="middle" class="t">06:00</text>
<text x="1450" y="1287.7" text-anchor="middle" class="t">12:00</text>
<text x="1229.85" y="1238.70" class="n" textLength="91.16" lengthAdjust="spacingAndGlyphs">CORINA</text><rect x="125.8" y="1321" width="386.7" height="258.4" fill="#fefefd"/>
<rect x="222.31" y="1321" width="197.38" height="258.4" fill="#eeeeef"/>
<polygon fill="#d7eae0" points="125.8,1579.4 125.8,1331.34 130.63,1331.59 134.5,1334.78 137.72,1338.23 140.78,1342.53 143.2,1347.7 145.46,1352.01 147.87,1356.31 149.65,1360.62 151.58,1365.79 153.03,1370.1 154.96,1375.26 156.57,1380.43 158.02,1384.74 159.96,1389.05 162.7,1398.52 165.6,1407.99 167.85,1417.47 170.59,1428.67 173.82,1438.14 176.07,1447.62 178.49,1457.09 181.23,1466.57 183.97,1476.04 186.54,1485.51 189.12,1494.99 191.7,1504.46 194.92,1514.8 197.98,1524.27 201.05,1533.75 204.27,1543.22 207.33,1552.7 210.39,1560.45 213.61,1566.65 216.67,1571.39 222.15,1577.68 225.7,1579.4 420.66,1579.4 425.49,1578.02 431.29,1570.79 435,1562.17 439.35,1551.92 442.89,1542.53 445.79,1533.15 449.5,1523.67 452.4,1513.51 455.95,1499.81 458.85,1489.82 461.75,1480.35 464.65,1470.01 468.19,1456.23 471.9,1441.59 476.25,1426.94 480.6,1413.16 484.95,1399.38 489.3,1388.18 493.65,1379.57 498.64,1367.51 503.8,1361.48 508.15,1358.9 512.5,1358.04 512.5,1579.4"/>
<path d="M125.8,1330.74 L130.63,1330.99 L134.5,1334.18 L137.72,1337.63 L140.78,1341.93 L143.2,1347.1 L145.46,1351.41 L147.87,1355.71 L149.65,1360.02 L151.58,1365.19 L153.03,1369.5 L154.96,1374.66 L156.57,1379.83 L158.02,1384.14 L159.96,1388.45 L162.7,1397.92 L165.6,1407.39 L167.85,1416.87 L170.59,1428.07 L173.82,1437.54 L176.07,1447.02 L178.49,1456.49 L181.23,1465.97 L183.97,1475.44 L186.54,1484.91 L189.12,1494.39 L191.7,1503.86 L194.92,1514.2 L197.98,1523.67 L201.05,1533.15 L204.27,1542.62 L207.33,1552.1 L210.39,1559.85 L213.61,1566.05 L216.67,1570.79 L222.15,1577.08 L225.7,1578.8 L420.66,1578.8 L425.49,1577.42 L431.29,1570.19 L435,1561.57 L439.35,1551.32 L442.89,1541.93 L445.79,1532.55 L449.5,1523.07 L452.4,1512.91 L455.95,1499.21 L458.85,1489.22 L461.75,1479.75 L464.65,1469.41 L468.19,1455.63 L471.9,1440.99 L476.25,1426.34 L480.6,1412.56 L484.95,1398.78 L489.3,1387.58 L493.65,1378.97 L498.64,1366.91 L503.8,1360.88 L508.15,1358.3 L512.5,1357.44" stroke="#178749" stroke-width="2.5" fill="none" stroke-dasharray="0 4.9" stroke-linecap="round" stroke-linejoin="round"/>
<path d="M125.8,1321V1579.4M118.3,1579.4H513.5" stroke="#111" stroke-width="1.8" fill="none"/>
<text x="113" y="1587.6" text-anchor="end" class="t">0</text>
<text x="113" y="1501.47" text-anchor="end" class="t">10</text>
<text x="113" y="1415.33" text-anchor="end" class="t">20</text>
<text x="113" y="1329.2" text-anchor="end" class="t">30</text>
<path d="M118.3,1579.4H125.8M118.3,1493.27H125.8M118.3,1407.13H125.8M118.3,1321H125.8M125.8,1579.4V1586.9M222.47,1579.4V1586.9M319.15,1579.4V1586.9M415.82,1579.4V1586.9M512.5,1579.4V1586.9M174.14,1579.4V1583.9M270.81,1579.4V1583.9M367.49,1579.4V1583.9M464.16,1579.4V1583.9" stroke="#111" stroke-width="1.8" fill="none"/>
<path d="M126.8,1574.06H222.31M419.69,1574.06H512.5" stroke="#2c9763" stroke-width="3" fill="none"/>
<text x="125.8" y="1612.7" text-anchor="middle" class="t">12:00</text>
<text x="222.47" y="1612.7" text-anchor="middle" class="t">18:00</text>
<text x="319.15" y="1612.7" text-anchor="middle" class="t">00:00</text>
<text x="415.82" y="1612.7" text-anchor="middle" class="t">06:00</text>
<text x="512.5" y="1612.7" text-anchor="middle" class="t">12:00</text>
<text x="283.40" y="1563.70" class="n" textLength="107.48" lengthAdjust="spacingAndGlyphs">MEKONG</text><rect x="594.4" y="1321" width="386.7" height="258.4" fill="#fefefd"/>
<rect x="696.07" y="1321" width="188.84" height="258.4" fill="#eeeeef"/>
<polygon fill="#d7eae0" points="597.3,1579.4 597.3,1364.67 601.01,1367.9 604.39,1371.65 607.13,1375.65 609.87,1380.04 612.12,1384.31 614.54,1388.96 616.47,1393.35 618.41,1397.87 620.5,1402.78 624.21,1412.34 627.43,1421.26 630.49,1430.82 633.71,1440.38 636.94,1449.94 640.16,1459.37 643.22,1468.93 646.44,1478.49 649.67,1488.06 652.89,1497.62 655.95,1507.05 659.17,1516.74 662.39,1526.17 665.62,1535.73 669.32,1545.29 673.19,1554.21 677.54,1563.12 682.05,1572.04 686.4,1577.07 690.27,1578.37 694.3,1579.4 889.26,1579.4 892.32,1578.37 895.54,1575.14 898.77,1571.39 901.34,1566.22 903.76,1557.31 906.34,1551.62 908.92,1543.35 912.62,1529.4 916.49,1515.45 920.19,1501.36 924.06,1490.51 928.57,1481.08 932.92,1472.16 937.44,1463.25 941.79,1453.04 946.3,1439.73 950.16,1430.17 953.87,1421.26 957.74,1412.34 962.25,1402.27 966.6,1393.35 971.11,1384.44 974.98,1375.52 977.39,1370.35 981.1,1364.93 981.1,1579.4"/>
<path d="M597.3,1364.07 L601.01,1367.3 L604.39,1371.05 L607.13,1375.05 L609.87,1379.44 L612.12,1383.71 L614.54,1388.36 L616.47,1392.75 L618.41,1397.27 L620.5,1402.18 L624.21,1411.74 L627.43,1420.66 L630.49,1430.22 L633.71,1439.78 L636.94,1449.34 L640.16,1458.77 L643.22,1468.33 L646.44,1477.89 L649.67,1487.46 L652.89,1497.02 L655.95,1506.45 L659.17,1516.14 L662.39,1525.57 L665.62,1535.13 L669.32,1544.69 L673.19,1553.61 L677.54,1562.52 L682.05,1571.44 L686.4,1576.47 L690.27,1577.77 L694.3,1578.8 L889.26,1578.8 L892.32,1577.77 L895.54,1574.54 L898.77,1570.79 L901.34,1565.62 L903.76,1556.71 L906.34,1551.02 L908.92,1542.75 L912.62,1528.8 L916.49,1514.85 L920.19,1500.76 L924.06,1489.91 L928.57,1480.48 L932.92,1471.56 L937.44,1462.65 L941.79,1452.44 L946.3,1439.13 L950.16,1429.57 L953.87,1420.66 L957.74,1411.74 L962.25,1401.67 L966.6,1392.75 L971.11,1383.84 L974.98,1374.92 L977.39,1369.75 L981.1,1364.33" stroke="#178749" stroke-width="2.5" fill="none" stroke-dasharray="0 4.9" stroke-linecap="round" stroke-linejoin="round"/>
<path d="M594.4,1321V1579.4M586.9,1579.4H982.1" stroke="#111" stroke-width="1.8" fill="none"/>
<text x="581.6" y="1587.6" text-anchor="end" class="t">0</text>
<text x="581.6" y="1523" text-anchor="end" class="t">5</text>
<text x="581.6" y="1458.4" text-anchor="end" class="t">10</text>
<text x="581.6" y="1393.8" text-anchor="end" class="t">15</text>
<text x="581.6" y="1329.2" text-anchor="end" class="t">20</text>
<path d="M586.9,1579.4H594.4M586.9,1514.8H594.4M586.9,1450.2H594.4M586.9,1385.6H594.4M586.9,1321H594.4M594.4,1579.4V1586.9M691.07,1579.4V1586.9M787.75,1579.4V1586.9M884.42,1579.4V1586.9M981.1,1579.4V1586.9M642.74,1579.4V1583.9M739.41,1579.4V1583.9M836.09,1579.4V1583.9M932.76,1579.4V1583.9" stroke="#111" stroke-width="1.8" fill="none"/>
<path d="M595.4,1548.65H696.07M884.91,1548.65H981.1" stroke="#2c9763" stroke-width="3" fill="none"/>
<text x="594.4" y="1612.7" text-anchor="middle" class="t">12:00</text>
<text x="691.07" y="1612.7" text-anchor="middle" class="t">18:00</text>
<text x="787.75" y="1612.7" text-anchor="middle" class="t">00:00</text>
<text x="884.42" y="1612.7" text-anchor="middle" class="t">06:00</text>
<text x="981.1" y="1612.7" text-anchor="middle" class="t">12:00</text>
<text x="756.94" y="1563.70" class="n" textLength="99.69" lengthAdjust="spacingAndGlyphs">SEKONG</text><g transform="translate(38.4,1038) rotate(-90)"><text x="-2.49" y="0.00" style="font-size:50.5px;fill:#000" textLength="214.87" lengthAdjust="spacingAndGlyphs">GPP (g O</text><text x="209.05" y="7.80" style="font-size:36px;fill:#000" textLength="23.81" lengthAdjust="spacingAndGlyphs">2</text><text x="246.21" y="0.00" style="font-size:50.5px;fill:#000" textLength="42.56" lengthAdjust="spacingAndGlyphs">m</text><text x="287.67" y="-11.70" style="font-size:36px;fill:#000" textLength="32.68" lengthAdjust="spacingAndGlyphs">-2</text><text x="333.85" y="0.00" style="font-size:50.5px;fill:#000" textLength="28.44" lengthAdjust="spacingAndGlyphs">d</text><text x="361.97" y="-12.20" style="font-size:36px;fill:#000" textLength="28.60" lengthAdjust="spacingAndGlyphs">-1</text><text x="396.93" y="0.00" style="font-size:50.5px;fill:#000" textLength="15.45" lengthAdjust="spacingAndGlyphs">)</text></g><text x="605.91" y="1681.00" style="font-size:50.5px;fill:#000" textLength="340.58" lengthAdjust="spacingAndGlyphs">Hour of the day</text><rect x="1030.5" y="1360" width="136" height="18" fill="#d7eae0"/><path d="M1031,1358.8H1164" stroke="#178749" stroke-width="2.4" stroke-dasharray="0 5.6" stroke-linecap="round"/><path d="M1031.5,1420H1163" stroke="#2c9763" stroke-width="3.4" stroke-linecap="round"/><text x="1189.18" y="1382.00" style="font-size:43.5px;fill:#000" textLength="24.17" lengthAdjust="spacingAndGlyphs">δ</text><text x="1215.04" y="1370.80" style="font-size:32.7px;fill:#000" textLength="34.51" lengthAdjust="spacingAndGlyphs">18</text><text x="1249.01" y="1382.00" style="font-size:43.5px;fill:#000" textLength="34.30" lengthAdjust="spacingAndGlyphs">O</text><text x="1280.56" y="1395.00" style="font-size:23px;fill:#000" textLength="15.87" lengthAdjust="spacingAndGlyphs">2</text><rect x="1291.6" y="1364.6" width="6.6" height="3.2" fill="#000"/><text x="1302.48" y="1382.00" style="font-size:43.5px;fill:#000" textLength="93.25" lengthAdjust="spacingAndGlyphs">GPP</text><text x="1187.26" y="1436.80" style="font-size:43.5px;fill:#000" textLength="94.09" lengthAdjust="spacingAndGlyphs">GPP</text><text x="1274.68" y="1447.50" style="font-size:28.4px;fill:#000" textLength="37.23" lengthAdjust="spacingAndGlyphs">O2</text><rect x="1029.5" y="1461.0" width="33.5" height="33.5" fill="#21b74a" stroke="#5a5a50" stroke-width="1"/><text x="1078.90" y="1488.40" style="font-size:28.8px;fill:#000" textLength="212.05" lengthAdjust="spacingAndGlyphs">Mountain Steppe</text><rect x="1329.7" y="1461.5" width="33.5" height="33.5" fill="#8aaeff" stroke="#5a5a50" stroke-width="1"/><text x="1377.33" y="1487.80" style="font-size:28.8px;fill:#000" textLength="116.81" lengthAdjust="spacingAndGlyphs">Subarctic</text><rect x="1029.5" y="1521.8" width="33.5" height="33.5" fill="#d9f411" stroke="#5a5a50" stroke-width="1"/><text x="1079.32" y="1548.30" style="font-size:28.8px;fill:#000" textLength="81.88" lengthAdjust="spacingAndGlyphs">Desert</text><rect x="1329.7" y="1521.3" width="33.5" height="33.5" fill="#f54a60" stroke="#5a5a50" stroke-width="1"/><text x="1377.58" y="1548.00" style="font-size:28.8px;fill:#000" textLength="97.86" lengthAdjust="spacingAndGlyphs">Tropical</text><rect x="1258" y="1586" width="82" height="35" fill="#eeeeef"/><path d="M1258,1587V1620" stroke="#b8b8b8" stroke-width="1.2"/><rect x="1178.8" y="1586.2" width="161.4" height="34.4" fill="none" stroke="#111" stroke-width="2"/><text x="1191.73" y="1611.00" style="font-size:27.4px;fill:#000" textLength="49.12" lengthAdjust="spacingAndGlyphs">Day</text><text x="1267.92" y="1611.00" style="font-size:27.4px;fill:#000" textLength="64.88" lengthAdjust="spacingAndGlyphs">Night</text></svg></body></html>
